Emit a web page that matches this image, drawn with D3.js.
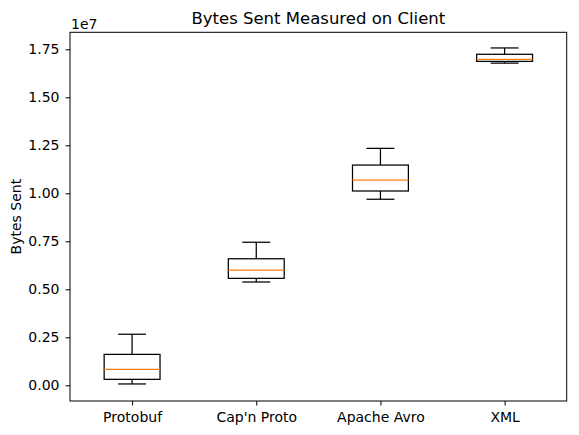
<!DOCTYPE html>
<html>
<head>
<meta charset="utf-8">
<script src="https://cdn.jsdelivr.net/npm/d3@7"></script>
<style>
  body { margin: 0; background: #fff; }
  text { font-family: "DejaVu Sans", sans-serif; fill: #000; }
</style>
</head>
<body>
<div id="chart"></div>
<script>
// values in units of 1e7 bytes
var categories = ["Protobuf", "Cap'n Proto", "Apache Avro", "XML"];
var whiskerLow  = [0.007, 0.538, 0.969, 1.678];
var q1          = [0.031, 0.557, 1.012, 1.687];
var medians     = [0.083, 0.600, 1.068, 1.698];
var q3          = [0.161, 0.659, 1.147, 1.724];
var whiskerHigh = [0.266, 0.745, 1.234, 1.757];
var yTicks = [0, 0.25, 0.5, 0.75, 1.0, 1.25, 1.5, 1.75];

var W = 579, H = 435;
var m = {left: 70, top: 32.3, right: 566.7, bottom: 401};

var svg = d3.select('#chart').append('svg')
  .attr('width', W).attr('height', H);

var x = d3.scaleLinear().domain([0.5, 4.5]).range([m.left, m.right]);
var y = d3.scaleLinear().domain([-0.0818, 1.8385]).range([m.bottom, m.top]);
var boxW = 0.45;

var data = categories.map(function(c, i){
  return {name: c, pos: i + 1, lo: whiskerLow[i], q1: q1[i], med: medians[i], q3: q3[i], hi: whiskerHigh[i]};
});

// axes
var yAxis = svg.append('g')
  .attr('transform', 'translate(' + m.left + ',0)')
  .call(d3.axisLeft(y).tickValues(yTicks).tickSizeOuter(0).tickSize(4.5).tickPadding(6)
    .tickFormat(d3.format('.2f')));
var xAxis = svg.append('g')
  .attr('transform', 'translate(0,' + m.bottom + ')')
  .call(d3.axisBottom(x).tickValues(data.map(function(d){return d.pos}))
    .tickSize(4.5).tickSizeOuter(0).tickPadding(7)
    .tickFormat(function(d){ return categories[d - 1]; }));
[yAxis, xAxis].forEach(function(a){
  a.select('.domain').remove();
  a.selectAll('text').style('font-size', '14px').style('font-family', '"DejaVu Sans", sans-serif');
  a.selectAll('line').attr('stroke', '#000').attr('stroke-width', 1);
});

// frame
svg.append('rect')
  .attr('x', m.left).attr('y', m.top)
  .attr('width', m.right - m.left).attr('height', m.bottom - m.top)
  .attr('fill', 'none').attr('stroke', '#000').attr('stroke-width', 1);

// boxes
var g = svg.append('g').selectAll('g').data(data).enter().append('g');
function seg(sel, x1, y1, x2, y2, col){
  sel.append('line').attr('x1', x1).attr('y1', y1).attr('x2', x2).attr('y2', y2)
    .attr('stroke', col || '#000').attr('stroke-width', 1.25);
}
g.each(function(d){
  var s = d3.select(this);
  var cx = x(d.pos), hw = x(d.pos + boxW / 2) - cx, cw = hw / 2;
  seg(s, cx, y(d.q3), cx, y(d.hi));
  seg(s, cx, y(d.q1), cx, y(d.lo));
  seg(s, cx - cw, y(d.hi), cx + cw, y(d.hi));
  seg(s, cx - cw, y(d.lo), cx + cw, y(d.lo));
  s.append('rect').attr('x', cx - hw).attr('y', y(d.q3))
    .attr('width', 2 * hw).attr('height', y(d.q1) - y(d.q3))
    .attr('fill', 'none').attr('stroke', '#000').attr('stroke-width', 1.25);
  seg(s, cx - hw, y(d.med), cx + hw, y(d.med), '#ff7f0e');
});

// texts
svg.append('text').attr('x', (m.left + m.right) / 2).attr('y', 23.5)
  .attr('text-anchor', 'middle').style('font-size', '16.5px')
  .text('Bytes Sent Measured on Client');
svg.append('text').attr('x', m.left + 1).attr('y', 28.5)
  .style('font-size', '14px').text('1e7');
svg.append('text')
  .attr('transform', 'translate(21,' + (m.top + m.bottom) / 2 + ') rotate(-90)')
  .attr('text-anchor', 'middle').style('font-size', '14px')
  .text('Bytes Sent');
</script>
</body>
</html>
